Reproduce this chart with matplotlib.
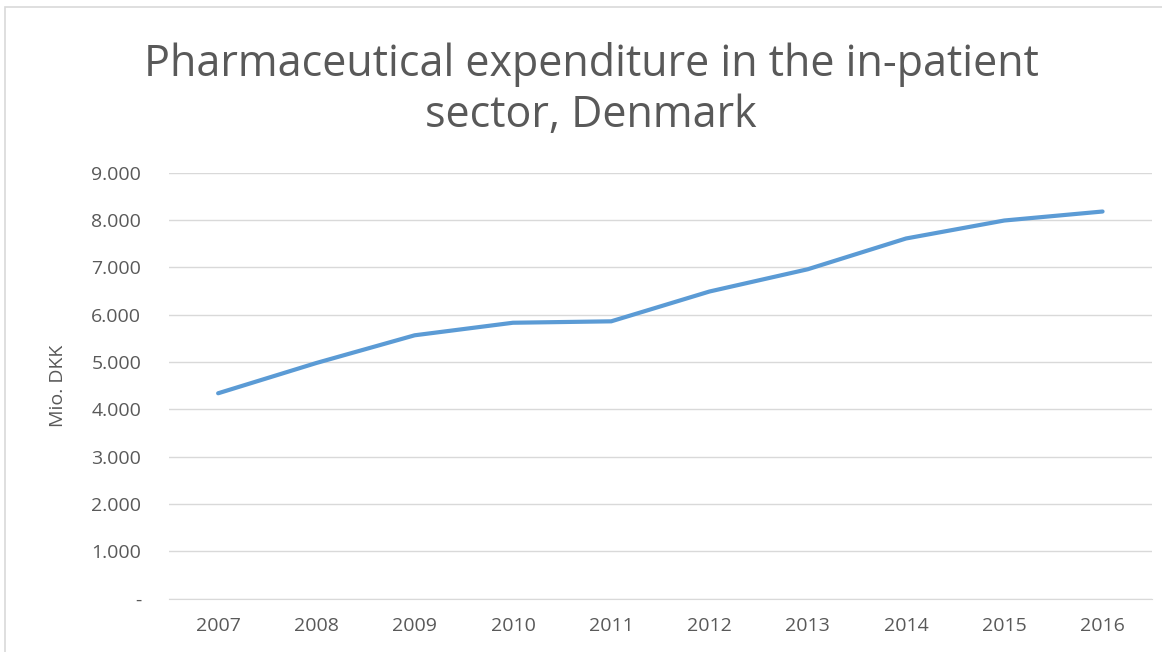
import matplotlib
matplotlib.use("Agg")
import matplotlib.pyplot as plt
from matplotlib.ticker import FuncFormatter
from matplotlib.patches import Rectangle

years = ["2007", "2008", "2009", "2010", "2011", "2012", "2013", "2014", "2015", "2016"]
values = [4340, 4980, 5565, 5830, 5860, 6490, 6960, 7610, 7990, 8180]
title = "Pharmaceutical expenditure in the in-patient\nsector, Denmark"
ylabel = "Mio. DKK"

plt.rcParams['font.family'] = ['Open Sans', 'DejaVu Sans']
text_color = "#595959"

fig = plt.figure(figsize=(11.62, 6.52), dpi=100)
fig.patches.append(Rectangle((5 / 1162, -0.1), 1.2, (652 - 7) / 652 + 0.1,
                             transform=fig.transFigure, fill=False,
                             edgecolor="#d9d9d9", linewidth=1.2))

ax = fig.add_axes([169 / 1162, 1 - 598.7 / 652, (1151.7 - 169) / 1162, (598.7 - 172.7) / 652])
x = list(range(len(years)))
ax.plot(x, values, color="#5B9BD5", linewidth=3, solid_capstyle="round", solid_joinstyle="round")

ax.set_xlim(-0.5, len(years) - 0.5)
ax.set_ylim(0, 9000)
ax.set_yticks(range(0, 9001, 1000))
ax.yaxis.set_major_formatter(FuncFormatter(
    lambda v, p: "-" if v == 0 else f"{int(v):,}".replace(",", ".")))
ax.set_xticks(x)
ax.set_xticklabels(years)

for s in ["top", "right", "left"]:
    ax.spines[s].set_visible(False)
ax.spines["bottom"].set_color("#d9d9d9")
ax.grid(axis="y", color="#d9d9d9", linewidth=1)
ax.set_axisbelow(True)
ax.tick_params(axis="both", length=0, labelsize=14, labelcolor=text_color)
ax.tick_params(axis="y", pad=20)
ax.tick_params(axis="x", pad=13)

ax.set_ylabel(ylabel, fontsize=14, color=text_color)
ax.yaxis.set_label_coords(58 / 1162, 1 - 386 / 652, transform=fig.transFigure)
ax.yaxis.label.set_verticalalignment("center")

fig.text(591 / 1162, 1 - 90 / 652, title, ha="center", va="center",
         fontsize=31, color=text_color, linespacing=1.18)

fig.savefig("out.png", dpi=100)
